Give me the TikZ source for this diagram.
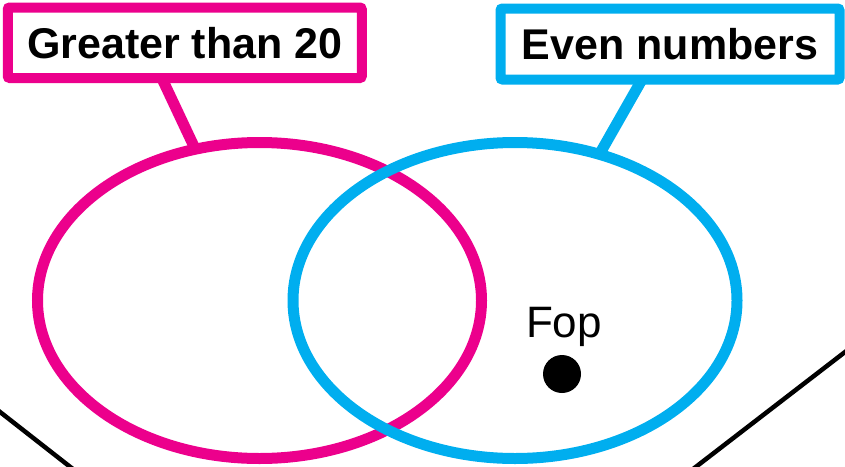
\documentclass[tikz,border=0pt]{standalone}
\usepackage{fontspec}
\setmainfont{Liberation Sans}
\usetikzlibrary{shapes.geometric,calc}
\definecolor{setpink}{RGB}{236,0,140}
\definecolor{setblue}{RGB}{0,174,239}
\begin{document}
\begin{tikzpicture}[x=1pt,y=-1pt,
  setring/.style={ellipse, draw, line width=11pt, minimum width=444pt,
    minimum height=316pt, inner sep=0pt, outer sep=0pt},
  tagbox/.style={draw, line width=10pt, rounded corners=2pt, fill=white,
    inner sep=0pt, outer sep=0pt, font=\fontsize{43}{50}\selectfont\bfseries},
  tagline/.style={line width=11pt},
  edgeline/.style={line width=4.5pt, black}]
\useasboundingbox (0,0) rectangle (845,466);
\clip (0,0) rectangle (845,466);

% black edges in the lower corners
\coordinate (la) at (-20,396.3);
\coordinate (lb) at (89,481.6);
\coordinate (ra) at (865,336.6);
\coordinate (rb) at (677,481.4);
\draw[edgeline] (la) -- (lb);
\draw[edgeline] (ra) -- (rb);

% the two sets
\node[setring, draw=setpink] (gt) at (259.5,300.5) {};
\node[setring, draw=setblue] (ev) at (515,300.5) {};

% set labels
\node[tagbox, draw=setpink, minimum width=354pt, minimum height=70.5pt]
  (gtlab) at (184.75,42.75) {Greater than 20};
\node[tagbox, draw=setblue, minimum width=339pt, minimum height=71pt]
  (evlab) at (670,44) {Even numbers};

% label pointers
\draw[tagline, setpink] ($(gtlab.south)+(-23,0)$) -- (gt.113);
\draw[tagline, setblue] ($(evlab.south)+(-28,0)$) -- (ev.60);

% the element
\node[circle, fill=black, minimum size=38pt, inner sep=0pt] (dot) at (562,374) {};
\node[anchor=base, font=\fontsize{44}{50}\selectfont, inner sep=0pt] (fop) at (564,337) {Fop};
\end{tikzpicture}
\end{document}
